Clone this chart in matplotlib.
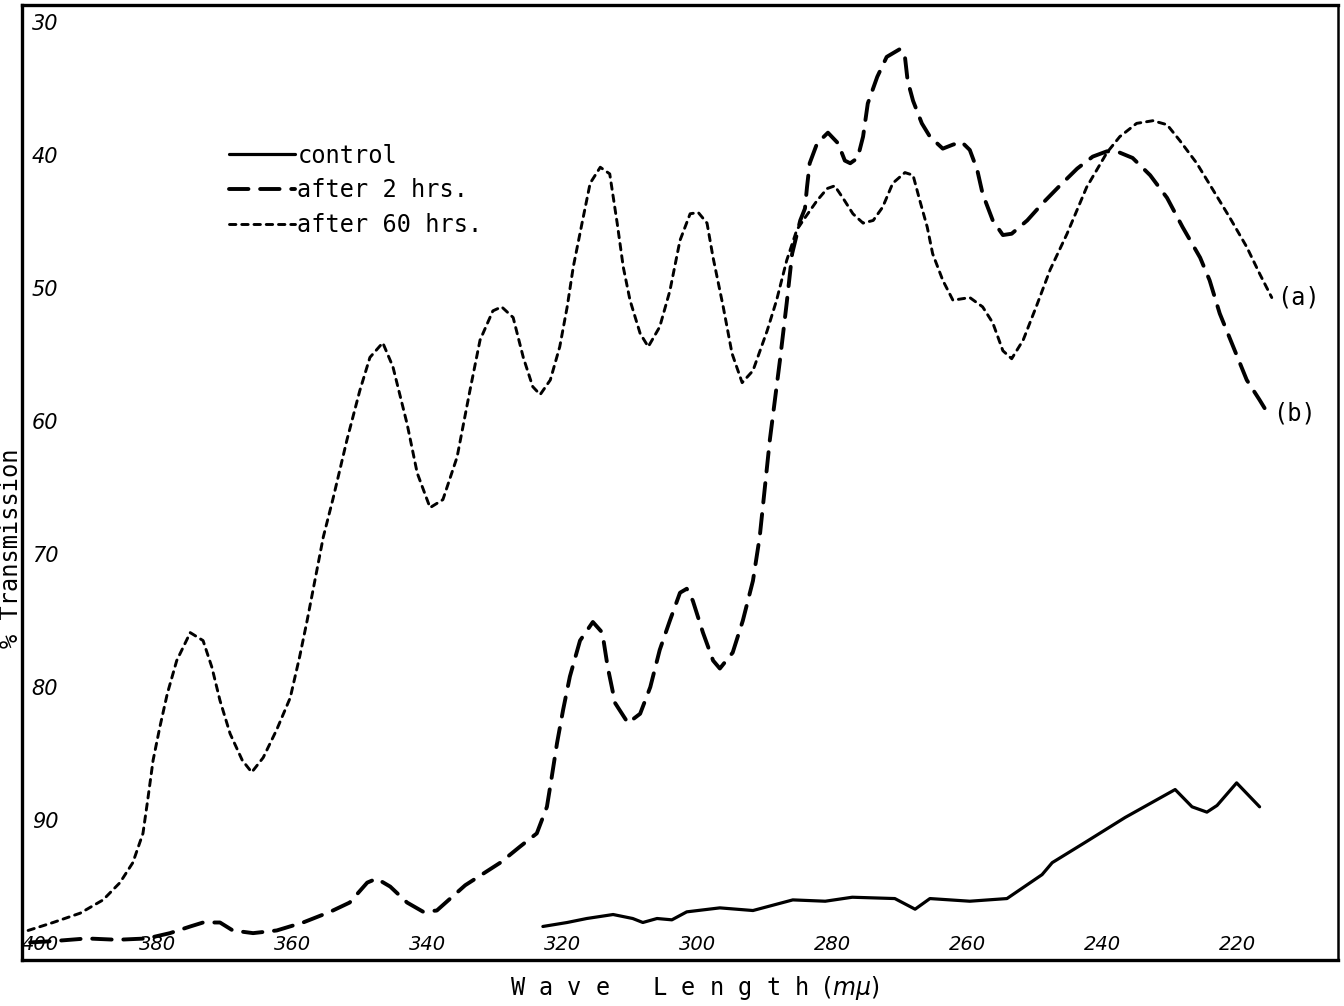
import matplotlib
matplotlib.use("Agg")
import matplotlib.pyplot as plt

# wave length (m-mu) and % transmission
ctrl_wl = [322.9, 319.3, 316.4, 312.5, 309.6, 308.1, 306.0, 303.8, 301.6, 296.7,
           291.8, 285.9, 281.1, 277.1, 270.8, 267.8, 265.6, 259.7, 254.2, 249.0,
           247.5, 242.7, 236.7, 229.3, 226.8, 224.6, 223.1, 220.2, 216.8]
ctrl_tr = [98.0, 97.7, 97.4, 97.1, 97.4, 97.7, 97.4, 97.5, 96.9, 96.6,
           96.8, 96.0, 96.1, 95.8, 95.9, 96.7, 95.9, 96.1, 95.9, 94.1,
           93.2, 91.7, 89.8, 87.7, 89.0, 89.4, 88.9, 87.2, 89.0]

h2_wl = [398.8, 395.4, 390.4, 385.9, 381.5, 378.1, 375.1, 373.2, 370.7, 368.8,
         365.8, 362.3, 358.4, 354.4, 351.5, 348.9, 347.5, 345.5, 343.0, 340.6,
         338.6, 334.4, 329.2, 326.3, 323.8, 322.3, 321.6, 320.8, 319.9, 318.9,
         317.4, 315.5, 314.1, 313.3, 312.2, 310.3, 308.5, 307.0, 305.6, 304.1,
         302.6, 301.6, 300.7, 299.2, 297.7, 296.7, 294.8, 293.3, 291.8, 290.8,
         289.3, 287.8, 286.8, 286.0, 284.8, 284.1, 283.8, 283.4, 282.3, 280.7,
         279.2, 278.2, 277.4, 276.3, 275.5, 274.8, 273.4, 272.0, 270.0, 269.3,
         268.9, 268.1, 266.8, 265.6, 263.7, 262.2, 260.9, 259.7, 258.6, 257.8,
         256.3, 254.8, 253.5, 251.2, 248.9, 246.4, 243.8, 241.5, 239.4, 237.5,
         235.6, 233.0, 230.5, 228.2, 225.6, 224.2, 222.7, 220.7, 218.7, 216.8,
         215.6]
h2_tr = [99.2, 99.1, 98.9, 99.0, 98.9, 98.5, 98.0, 97.7, 97.7, 98.3,
         98.5, 98.3, 97.7, 96.9, 96.2, 94.7, 94.4, 95.0, 96.2, 96.9,
         96.8, 94.9, 93.2, 92.0, 91.0, 89.0, 86.8, 84.2, 81.7, 79.2,
         76.5, 75.1, 75.9, 78.5, 81.2, 82.7, 82.0, 80.0, 77.2, 75.0,
         72.9, 72.6, 73.5, 75.9, 78.0, 78.6, 77.4, 75.0, 72.0, 68.7,
         61.4, 55.4, 51.1, 47.4, 44.9, 44.0, 42.4, 40.6, 39.1, 38.3,
         39.1, 40.4, 40.6, 40.2, 38.6, 36.1, 34.1, 32.6, 32.0, 32.6,
         34.4, 35.9, 37.6, 38.6, 39.5, 39.2, 39.0, 39.6, 41.1, 42.9,
         44.9, 46.0, 45.9, 44.9, 43.6, 42.3, 41.0, 40.1, 39.7, 39.8,
         40.2, 41.5, 43.2, 45.4, 47.7, 49.4, 51.9, 54.4, 56.9, 58.4,
         59.4]

h60_wl = [399.1, 395.4, 391.4, 388.0, 385.5, 383.6, 382.1, 381.4, 380.6, 379.6,
          378.5, 377.1, 375.1, 373.2, 371.9, 370.7, 369.2, 367.4, 366.0, 364.3,
          362.3, 360.3, 358.9, 357.8, 355.4, 354.0, 351.9, 350.0, 348.5, 346.6,
          345.1, 343.0, 341.5, 339.6, 337.7, 335.6, 333.7, 332.2, 330.3, 329.0,
          327.3, 325.8, 324.4, 323.3, 321.8, 320.4, 319.3, 318.4, 317.1, 315.9,
          314.4, 313.0, 311.9, 311.0, 310.0, 308.5, 307.3, 305.6, 304.1, 302.6,
          301.1, 299.9, 298.6, 297.7, 296.2, 294.9, 293.4, 291.8, 289.7, 288.3,
          286.8, 285.3, 284.1, 282.3, 280.8, 279.7, 278.5, 277.0, 275.5, 274.0,
          272.6, 271.1, 269.3, 268.1, 267.1, 266.0, 265.2, 263.7, 262.2, 259.7,
          257.8, 256.3, 254.8, 253.5, 251.8, 249.8, 247.8, 245.3, 242.4, 239.4,
          237.5, 235.0, 232.6, 230.5, 228.6, 226.1, 223.7, 221.2, 218.7, 216.8,
          215.0]
h60_tr = [98.3, 97.7, 97.0, 96.0, 94.7, 93.2, 91.0, 88.5, 85.5, 83.0,
          80.5, 78.0, 75.9, 76.5, 78.5, 81.0, 83.5, 85.5, 86.4, 85.3,
          83.2, 80.8, 77.7, 75.0, 68.7, 65.9, 61.4, 57.7, 55.2, 54.1,
          55.9, 60.2, 63.9, 66.5, 65.9, 62.7, 57.7, 53.9, 51.7, 51.4,
          52.2, 55.2, 57.4, 58.0, 56.9, 54.4, 51.4, 48.4, 45.1, 42.1,
          40.9, 41.4, 45.1, 48.4, 50.9, 53.4, 54.4, 52.9, 50.2, 46.4,
          44.4, 44.3, 45.1, 47.7, 51.4, 54.9, 57.1, 56.2, 53.2, 50.9,
          47.9, 45.6, 44.7, 43.4, 42.5, 42.3, 43.2, 44.4, 45.1, 44.9,
          43.9, 42.1, 41.3, 41.5, 43.4, 45.4, 47.4, 49.4, 50.9, 50.7,
          51.4, 52.6, 54.7, 55.3, 53.9, 51.3, 48.6, 45.9, 42.4, 39.8,
          38.6, 37.6, 37.4, 37.7, 38.9, 40.6, 42.6, 44.7, 46.9, 48.9,
          50.7]

xticks = [400, 380, 360, 340, 320, 300, 280, 260, 240, 220]
yticks = [30, 40, 50, 60, 70, 80, 90]

mono = "DejaVu Sans Mono"

fig = plt.figure(figsize=(13.44, 10.06), dpi=100)
ax = fig.add_axes([0.0164, 0.046, 0.9791, 0.949])

ax.plot(ctrl_wl, ctrl_tr, color="black", lw=2.3, solid_capstyle="round",
        solid_joinstyle="round", label="control")
ax.plot(h2_wl, h2_tr, color="black", lw=2.8, dashes=(5, 3),
        dash_capstyle="round", dash_joinstyle="round", label="after 2 hrs.")
ax.plot(h60_wl, h60_tr, color="black", lw=2.1, dashes=(2.2, 2),
        dash_capstyle="round", dash_joinstyle="round", label="after 60 hrs.")

ax.annotate("(a)", xy=(h60_wl[-1], h60_tr[-1]), xytext=(4, 0),
            textcoords="offset points", ha="left", va="center",
            fontsize=17, family=mono)
ax.annotate("(b)", xy=(h2_wl[-1], h2_tr[-1]), xytext=(4, 0),
            textcoords="offset points", ha="left", va="center",
            fontsize=17, family=mono)

ax.set_xlim(400, 205.2)
ax.set_ylim(100.5, 28.7)

ax.set_xticks(xticks)
ax.set_xticklabels([str(v) for v in xticks], fontsize=14, style="italic")
ax.set_yticks(yticks)
ax.set_yticklabels([str(v) for v in yticks], fontsize=15, style="italic")
ax.tick_params(axis="both", length=0)
ax.tick_params(axis="y", pad=-7)
ax.tick_params(axis="x", pad=-4)
for lbl in ax.get_yticklabels():
    lbl.set_ha("left")
for lbl in ax.get_xticklabels():
    lbl.set_va("bottom")
ax.get_xticklabels()[0].set_ha("left")

for side in ["left", "bottom", "top"]:
    ax.spines[side].set_linewidth(2.4)
ax.spines["right"].set_linewidth(1.8)

ax.legend(loc="upper left", bbox_to_anchor=(0.141, 0.877), frameon=False,
          handlelength=2.8, handletextpad=0.1, labelspacing=0.45,
          prop={"family": mono, "size": 17})

fig.text(0.517, 0.018, r"W a v e   L e n g t h $(m\mu)$", ha="center",
         va="center", fontsize=17, family=mono)
fig.text(0.0085, 0.455, "% Transmission", rotation=90, ha="center",
         va="center", fontsize=17, family=mono)

fig.savefig("out.png", dpi=100)
